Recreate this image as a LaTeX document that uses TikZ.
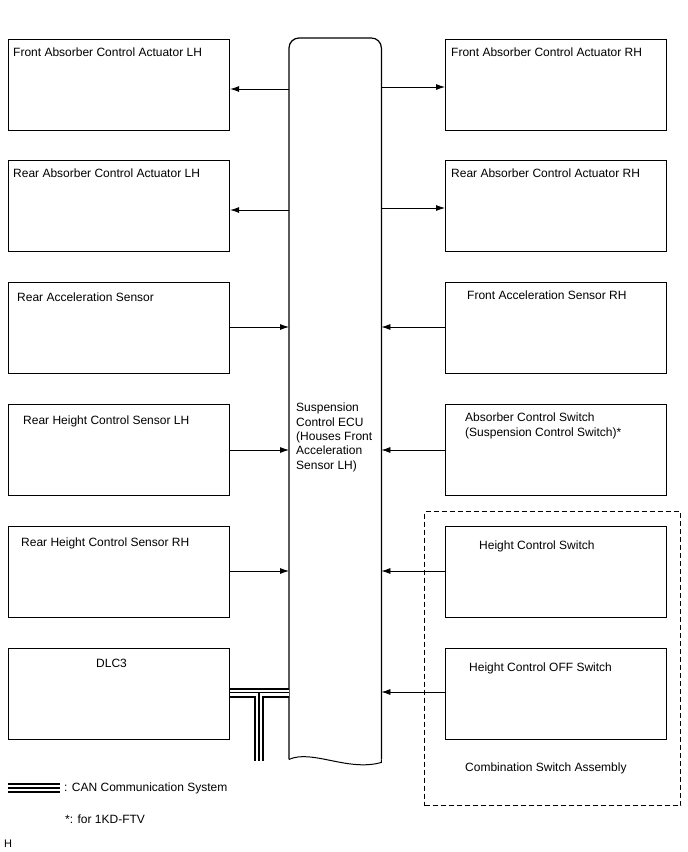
\documentclass[tikz,border=0pt]{standalone}
\usepackage{fontspec}
\setmainfont{Liberation Sans}
\usetikzlibrary{arrows.meta,calc}
\begin{document}
\begin{tikzpicture}[x=1pt,y=-1pt,
  box/.style={draw, line width=1.2pt, minimum width=221pt, minimum height=91pt, inner sep=0pt, anchor=north west},
  lbl/.style={anchor=base west, inner sep=0pt, font=\fontsize{12}{14.3}\selectfont},
  arr/.style={-{Latex[length=9pt,width=6pt]}, line width=0.8pt},
  grp/.style={draw, line width=1.1pt, dash pattern=on 5pt off 3pt, inner sep=0pt, anchor=north west}]
\useasboundingbox (0,0) rectangle (688,852);

% left column
\node[box] (fal) at (8,39) {};
\node[box] (ral) at (8,160) {};
\node[box] (ras) at (8,282) {};
\node[box] (rhl) at (8,404) {};
\node[box] (rhr) at (8,526) {};
\node[box] (dlc) at (8,648) {};
% right column
\node[box] (far) at (445,39) {};
\node[box] (rar) at (445,160) {};
\node[box] (fas) at (445,282) {};
\node[box] (acs) at (445,404) {};
\node[box] (hcs) at (445,526) {};
\node[box] (hco) at (445,648) {};
% group
\node[grp, minimum width=256pt, minimum height=294pt] (csa) at (424,511) {};

% labels
\node[lbl] (tfal) at (13,56.5) {Front Absorber Control Actuator LH};
\node[lbl] (tral) at (13,177.5) {Rear Absorber Control Actuator LH};
\node[lbl] (tras) at (17,301.5) {Rear Acceleration Sensor};
\node[lbl] (trhl) at (23,424.5) {Rear Height Control Sensor LH};
\node[lbl] (trhr) at (21,546.5) {Rear Height Control Sensor RH};
\node[lbl] (tdlc) at (96,667.5) {DLC3};
\node[lbl] (tfar) at (451,56.5) {Front Absorber Control Actuator RH};
\node[lbl] (trar) at (451,177.5) {Rear Absorber Control Actuator RH};
\node[lbl] (tfas) at (467,299.5) {Front Acceleration Sensor RH};
\node[lbl] (tacs) at (465,421.5) {Absorber Control Switch};
\node[lbl] (tacs2) at (465,436.5) {(Suspension Control Switch)*};
\node[lbl] (thcs) at (479,549.5) {Height Control Switch};
\node[lbl] (thco) at (469,671.5) {Height Control OFF Switch};
\node[lbl] (tcsa) at (465,771.5) {Combination Switch Assembly};

% ECU
\node[draw=none, minimum width=92pt, minimum height=721pt, inner sep=0pt, anchor=north west] (ecu) at (289,38) {};
\draw[line width=1.2pt, rounded corners=10pt] (ecu.south west) -- (ecu.north west) -- (ecu.north east) -- (ecu.south east);
\draw[line width=1pt] (ecu.south west) .. controls (312,749) and (348,772) .. ($(ecu.south east)+(0,3)$) -- (ecu.south east);
\node[anchor=north west, inner sep=0pt, align=left, font=\fontsize{12}{14.3}\selectfont] (tecu) at (296,403) {Suspension\\Control ECU\\(Houses Front\\Acceleration\\Sensor LH)};

% arrows
\draw[arr] (ecu.west |- 0,89) -- (fal.east |- 0,89);
\draw[arr] (ecu.east |- 0,87) -- (far.west |- 0,87);
\draw[arr] (ecu.west |- 0,210) -- (ral.east |- 0,210);
\draw[arr] (ecu.east |- 0,208) -- (rar.west |- 0,208);
\draw[arr] (ras.east |- 0,327) -- (ecu.west |- 0,327);
\draw[arr] (fas.west |- 0,327) -- (ecu.east |- 0,327);
\draw[arr] (rhl.east |- 0,450) -- (ecu.west |- 0,450);
\draw[arr] (acs.west |- 0,450) -- (ecu.east |- 0,450);
\draw[arr] (rhr.east |- 0,571) -- (ecu.west |- 0,571);
\draw[arr] (hcs.west |- 0,571) -- (ecu.east |- 0,571);
\draw[arr] (hco.west |- 0,692) -- (ecu.east |- 0,692);

% CAN bus
\coordinate (tj) at (259,692.5);
\coordinate (tb) at (259,761);
\coordinate (lg1) at (8,788);
\coordinate (lg2) at (60,788);
\foreach \w/\c in {10/black,6/white,1.2/black}{
  \draw[line width=\w pt, draw=\c] (dlc.east |- tj) -- (ecu.west |- tj);
  \draw[line width=\w pt, draw=\c] (tj) -- (tb);
  \draw[line width=\w pt, draw=\c] (lg1) -- (lg2);
}

% legend
\node[lbl] (tcan) at (64,791.5) {: CAN Communication System};
\node[lbl] (tstar) at (65,823) {*: for 1KD-FTV};
\node[lbl, font=\fontsize{11}{13}\selectfont] (th) at (4,847) {H};
\end{tikzpicture}
\end{document}
